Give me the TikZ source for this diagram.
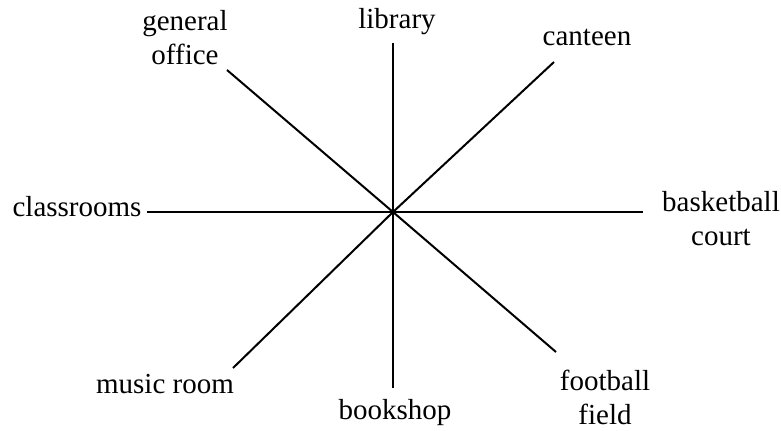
\documentclass[tikz,border=0pt]{standalone}
\usepackage{fontspec}
\setmainfont{Liberation Serif}

\begin{document}
\begin{tikzpicture}[x=0.5pt,y=-0.5pt,
  place/.style={font=\fontsize{14.5}{17}\selectfont, inner sep=0pt, align=center},
  spoke/.style={line width=1pt}]
  \useasboundingbox (0,0) rectangle (781,430);
  \coordinate (O) at (393,212);
  \node[place] (genoff) at (185,38) {general\\office};
  \node[place] (library) at (397,22) {library};
  \node[place] (canteen) at (587,37) {canteen};
  \node[place] (classrooms) at (77,207) {classrooms};
  \node[place] (bball) at (721,219) {basketball\\court};
  \node[place] (music) at (165,384) {music room};
  \node[place] (bookshop) at (395,413) {bookshop};
  \node[place] (football) at (605,397) {football\\field};
  \coordinate (n) at (393,43);
  \coordinate (s) at (393,388);
  \coordinate (w) at (147,212);
  \coordinate (e) at (643,212);
  \coordinate (nw) at (227,70);
  \coordinate (ne) at (554,62);
  \coordinate (sw) at (233,368);
  \coordinate (se) at (556,352);
  \draw[spoke, line width=1.3pt] (O) -- (n);
  \draw[spoke, line width=1.3pt] (O) -- (s);
  \draw[spoke] (O) -- (w);
  \draw[spoke] (O) -- (e);
  \draw[spoke] (O) -- (nw);
  \draw[spoke] (O) -- (ne);
  \draw[spoke] (O) -- (sw);
  \draw[spoke] (O) -- (se);
\end{tikzpicture}
\end{document}
